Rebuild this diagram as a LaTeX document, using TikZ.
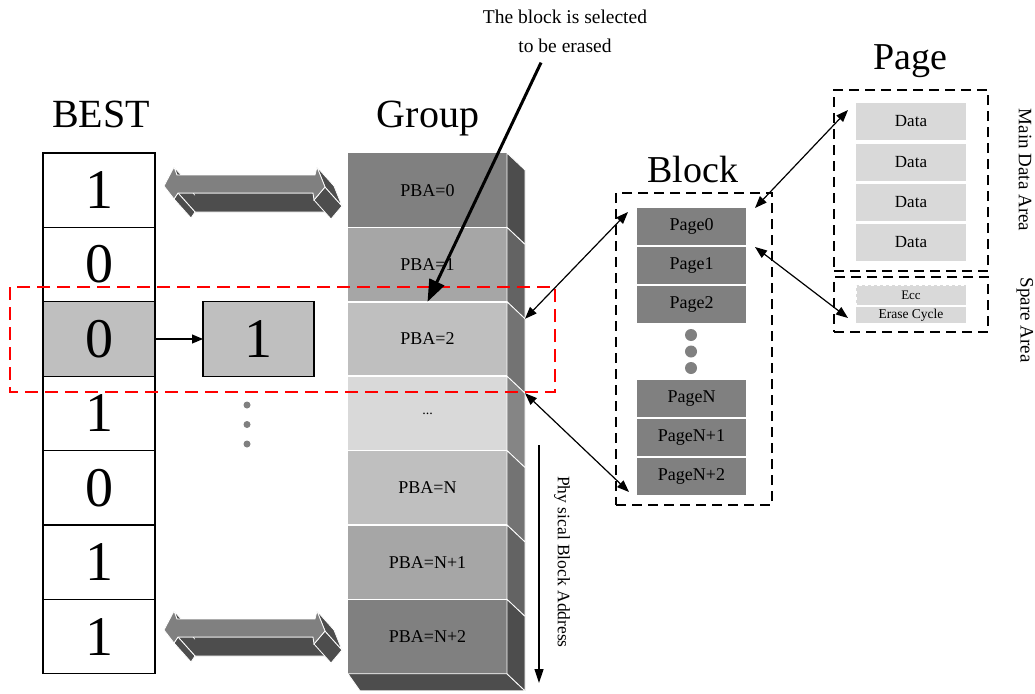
\documentclass[tikz,border=0pt]{standalone}
\usepackage{fontspec}
\setmainfont{Liberation Serif}
\usetikzlibrary{arrows.meta}

\definecolor{g30}{HTML}{4D4D4D}
\definecolor{g50}{HTML}{808080}
\definecolor{g65}{HTML}{A6A6A6}
\definecolor{g75}{HTML}{BFBFBF}
\definecolor{g85}{HTML}{D9D9D9}
\definecolor{s1}{HTML}{4D4D4D}
\definecolor{s2}{HTML}{636363}
\definecolor{s3}{HTML}{737373}
\definecolor{s4}{HTML}{858585}

\newcommand\fs[1]{\fontsize{#1}{#1}\selectfont}
% side face of one group cell, extruded to the lower right
\newcommand\sideface[2]{\filldraw[fill=#2, draw=white, line width=0.8pt]
  (#1.north east) -- ++(18,17) -- ([shift={(18,17)}]#1.south east) -- (#1.south east) -- cycle;}
% extruded double block arrow, shifted down by #1
\newcommand\fatarrow[1]{%
  \begin{scope}[shift={(0,#1)}]
    \coordinate (A1) at (164,186);
    \coordinate (A2) at (174,167);
    \coordinate (A3) at (177,175);
    \coordinate (A4) at (315,175);
    \coordinate (A5) at (317,167);
    \coordinate (A6) at (325,187);
    \coordinate (A7) at (314,200);
    \coordinate (A8) at (313,193);
    \coordinate (A9) at (178,193);
    \coordinate (A10) at (174,199);
    \filldraw[arrowside] (A8) -- (A9) -- ++(17,19) -- ([shift={(17,19)}]A8) -- cycle;
    \filldraw[arrowside] (A9) -- (A10) -- ++(17,19) -- ([shift={(17,19)}]A9) -- cycle;
    \filldraw[arrowside] (A2) -- (A3) -- ++(17,19) -- ([shift={(17,19)}]A2) -- cycle;
    \filldraw[arrowside] (A6) -- (A7) -- ++(17,19) -- ([shift={(17,19)}]A6) -- cycle;
    \filldraw[arrowside] (A5) -- (A6) -- ++(17,19) -- ([shift={(17,19)}]A5) -- cycle;
    \filldraw[fill=g50, draw=white, line width=0.8pt]
      (A1) -- (A2) -- (A3) -- (A4) -- (A5) -- (A6) -- (A7) -- (A8) -- (A9) -- (A10) -- cycle;
  \end{scope}}

\begin{document}
\begin{tikzpicture}[x=1pt, y=-1pt,
  bestcell/.style={draw=black, line width=1.3pt, minimum width=112pt, minimum height=74.4pt,
    inner sep=0pt, outer sep=0pt, font=\fs{56}},
  grpcell/.style={minimum width=159pt, minimum height=74.4pt, inner sep=0pt, outer sep=0pt, font=\fs{18}},
  pagecell/.style={fill=g50, minimum width=109pt, minimum height=37pt, inner sep=0pt, outer sep=0pt, font=\fs{18}},
  datacell/.style={fill=g85, minimum width=110pt, minimum height=37pt, inner sep=0pt, outer sep=0pt, font=\fs{17}},
  dashbox/.style={draw=black, line width=1.3pt, dash pattern=on 10pt off 6pt, inner sep=0pt, outer sep=0pt},
  title/.style={font=\fs{40}, anchor=base, inner sep=0pt},
  arrowside/.style={fill=g30, draw=white, line width=0.8pt},
  link/.style={{Triangle[length=12pt,width=9pt]}-{Triangle[length=12pt,width=9pt]}, line width=1.2pt},
  dot/.style={fill=g50, draw=none}]

\useasboundingbox[fill=white] (0,0) rectangle (1035,693);

% titles
\node[title] (tbest) at (101,127) {BEST};
\node[title] (tgroup) at (428,127) {Group};
\node[title, font=\fs{38}] (tblock) at (693,182) {Block};
\node[title, font=\fs{38}] (tpage) at (910,70) {Page};

% BEST table
\node[bestcell] (b1) at (99,190.2) {1};
\node[bestcell] (b2) at (99,264.6) {0};
\node[bestcell, fill=g75] (b3) at (99,339) {0};
\node[bestcell] (b4) at (99,413.4) {1};
\node[bestcell] (b5) at (99,487.8) {0};
\node[bestcell] (b6) at (99,562.2) {1};
\node[bestcell] (b7) at (99,636.6) {1};

\node[bestcell, fill=g75, minimum width=111pt] (nb) at (258.5,339) {1};
\draw[-{Triangle[length=11pt,width=9pt]}, line width=1.2pt] (b3.east) -- (nb.west);

\fill[dot] (247,405) circle (3.5);
\fill[dot] (247,424.5) circle (3.5);
\fill[dot] (247,444) circle (3.5);

% group of physical blocks
\node[grpcell, fill=g50] (g0) at (427.5,190.2) {PBA=0};
\node[grpcell, fill=g65] (g1) at (427.5,264.6) {PBA=1};
\node[grpcell, fill=g75] (g2) at (427.5,339) {PBA=2};
\node[grpcell, fill=g85, font=\fs{14}] (g3) at (427.5,413.4) {...};
\node[grpcell, fill=g75] (g4) at (427.5,487.8) {PBA=N};
\node[grpcell, fill=g65] (g5) at (427.5,562.2) {PBA=N+1};
\node[grpcell, fill=g50] (g6) at (427.5,636.6) {PBA=N+2};

\filldraw[fill=s1, draw=white, line width=0.8pt]
  (g6.south west) -- (g6.south east) -- ++(18,17) -- ([shift={(12,17)}]g6.south west) -- cycle;
\sideface{g0}{s1}
\sideface{g1}{s2}
\sideface{g2}{s3}
\sideface{g3}{s4}
\sideface{g4}{s3}
\sideface{g5}{s2}
\sideface{g6}{s1}
\foreach \r in {g0,g1,g2,g3,g4,g5}
  \draw[white, line width=1.5pt] (\r.south west) -- (\r.south east);

% block
\node[dashbox, minimum width=156pt, minimum height=312pt] (blk) at (694,349) {};
\node[pagecell] (p0) at (691.5,226.5) {Page0};
\node[pagecell] (p1) at (691.5,265.5) {Page1};
\node[pagecell] (p2) at (691.5,304.5) {Page2};
\node[pagecell] (pN) at (691.5,398.5) {PageN};
\node[pagecell] (pN1) at (691.5,437.5) {PageN+1};
\node[pagecell] (pN2) at (691.5,476.5) {PageN+2};
\fill[dot] (691,335) circle (6);
\fill[dot] (691,351.5) circle (6);
\fill[dot] (691,368) circle (6);

% page
\node[dashbox, minimum width=154pt, minimum height=181pt] (mainarea) at (911,180.5) {};
\node[dashbox, minimum width=154pt, minimum height=55pt] (sparearea) at (911,304.5) {};
\node[datacell] (d1) at (911,121.5) {Data};
\node[datacell] (d2) at (911,162) {Data};
\node[datacell] (d3) at (911,202) {Data};
\node[datacell] (d4) at (911,242.5) {Data};
\node[datacell, minimum height=20pt, draw=white, dashed, line width=0.8pt, font=\fs{13}] (ecc) at (911,295) {Ecc};
\node[datacell, minimum height=16pt, font=\fs{13.5}] (erase) at (911,315) {Erase Cycle};
\node[rotate=-90, font=\fs{19}] (lmain) at (1025,170) {Main Data Area};
\node[rotate=-90, font=\fs{19}] (lspare) at (1025,320) {Spare Area};

% selected row
\draw[red, line width=1.5pt, dash pattern=on 13pt off 7pt] (10,287) rectangle (555,392);

% connectors
\coordinate (gA) at ([shift={(18,17)}]g2.north east);
\coordinate (gB) at ([shift={(18,17)}]g3.north east);
\coordinate (kA) at ([shift={(-9,4)}]p0.north west);
\coordinate (kB) at ([shift={(-8,-3)}]pN2.south west);
\coordinate (kC) at ([shift={(9,0)}]p0.north east);
\coordinate (kD) at ([shift={(9,0)}]p1.north east);
\coordinate (mA) at ([shift={(14,20)}]mainarea.north west);
\coordinate (sA) at ([shift={(14,-14)}]sparearea.south west);
\draw[link] (gA) -- (kA);
\draw[link] (gB) -- (kB);
\draw[link] (kC) -- (mA);
\draw[link] (kD) -- (sA);

% physical block address axis
\coordinate (ax1) at (539,445);
\coordinate (ax2) at (539,683);
\draw[-{Triangle[length=14pt,width=9pt]}, line width=1.2pt] (ax1) -- (ax2);
\node[rotate=-90, font=\fs{17.5}] (lpba) at (562,562) {Phy sical Block Address};

% mapping arrows between table and group
\fatarrow{0}
\fatarrow{444}

% note on the erased block
\node[font={\fontsize{19.5}{29}\selectfont}, align=center, anchor=north, inner sep=0pt] (note) at (565,9.5)
  {The block is selected\\to be erased};
\coordinate (noteTail) at ([shift={(-24,10)}]note.south);
\draw[-{Triangle[length=22pt,width=16pt]}, line width=3pt] (noteTail) -- (g2.north);

\end{tikzpicture}
\end{document}
